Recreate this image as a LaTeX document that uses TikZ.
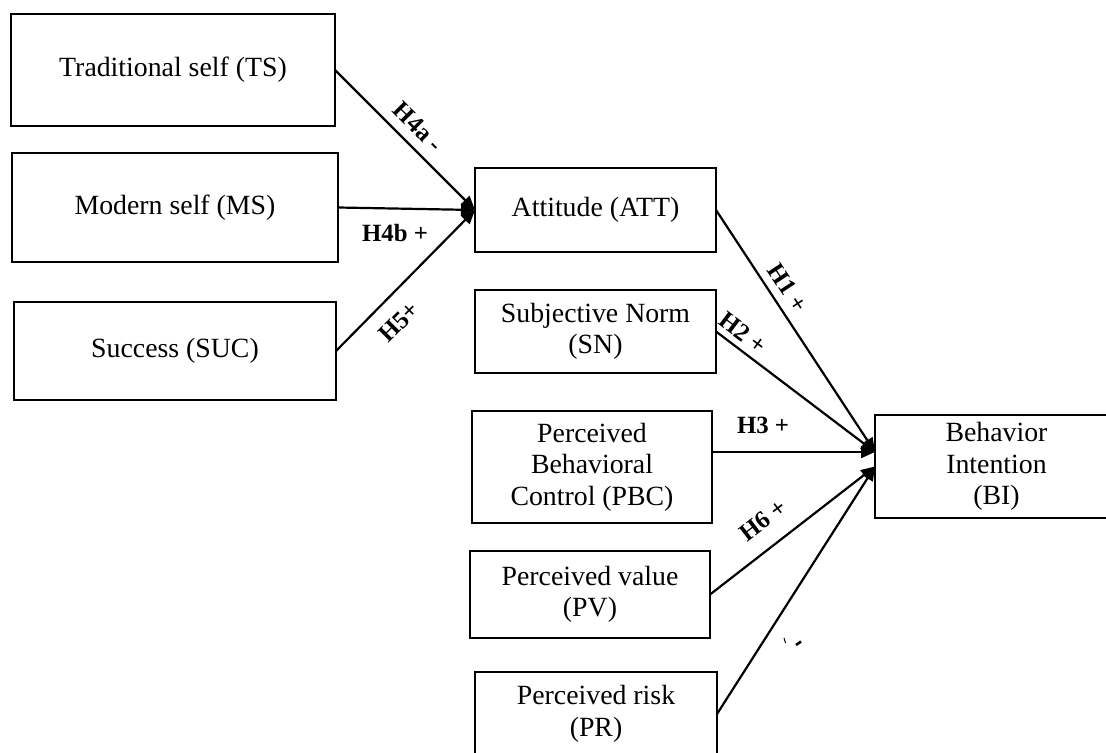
\documentclass[tikz,border=0pt]{standalone}
\usepackage{fontspec}
\setmainfont{Liberation Serif}
\usetikzlibrary{arrows.meta,calc}
\begin{document}
\begin{tikzpicture}[x=0.5pt,y=-0.5pt,
  box/.style={draw,line width=1.3pt,inner sep=2pt,outer sep=0pt,align=center,
    font=\fontsize{13.9}{15.8}\selectfont},
  conn/.style={line width=1.1pt,-{Triangle[length=7pt,width=6pt]}},
  hyp/.style={font=\bfseries\fontsize{12.4}{14}\selectfont,inner sep=1pt}]
\useasboundingbox (0,0) rectangle (1106,753);
% left boxes
\node[box,minimum width=162pt,minimum height=56pt] (TS) at (173,70) {Traditional self (TS)};
\node[box,minimum width=163pt,minimum height=54.5pt] (MS) at (175,207.5) {Modern self (MS)};
\node[box,minimum width=161pt,minimum height=49pt] (SUC) at (175,351) {Success (SUC)};
% middle boxes
\node[box,minimum width=120.5pt,minimum height=42pt] (ATT) at (595.5,210) {Attitude (ATT)};
\node[box,minimum width=120.5pt,minimum height=41.5pt] (SN) at (595.5,331.5) {Subjective Norm\\(SN)};
\node[box,minimum width=120pt,minimum height=56pt] (PBC) at (592,467) {Perceived\\Behavioral\\Control (PBC)};
\node[box,minimum width=120pt,minimum height=43.5pt] (PV) at (590,594.5) {Perceived value\\(PV)};
\node[box,minimum width=121pt,minimum height=42pt] (PR) at (596,714) {Perceived risk\\(PR)};
% right box
\node[box,minimum width=121.5pt,minimum height=51.5pt] (BI) at (996.5,466.5) {Behavior\\Intention\\(BI)};
\coordinate (biup) at (875,452);
% connectors to ATT
\draw[conn] (TS.east) -- (ATT.west);
\draw[conn] (MS.east) -- (ATT.west);
\draw[conn] (SUC.east) -- (ATT.west);
% connectors to BI
\draw[conn] (ATT.east) -- (biup);
\draw[conn] (SN.east) -- (biup);
\draw[conn] (PBC.east |- biup) -- (biup);
\draw[conn] (PV.east) -- (BI.west);
\draw[conn] (PR.east) -- (BI.west);
% hypothesis labels
\node[hyp,rotate=-45] (h4a) at (418,127) {H4a -};
\node[hyp] (h4b) at (395,233) {H4b +};
\node[hyp,rotate=45] (h5) at (399,322) {H5+};
\node[hyp,rotate=-56.7] (h1) at (788,288) {H1 +};
\node[hyp,rotate=-37] (h2) at (743,333) {H2 +};
\node[hyp] (h3) at (763,425) {H3 +};
\node[hyp,rotate=37.4] (h6) at (763,520) {H6 +};
% stray marks
\draw[line width=0.5pt] (784,638) -- (785.5,643);
\draw[line width=1.3pt] (796,645) -- (801,641.5);
\end{tikzpicture}
\end{document}
